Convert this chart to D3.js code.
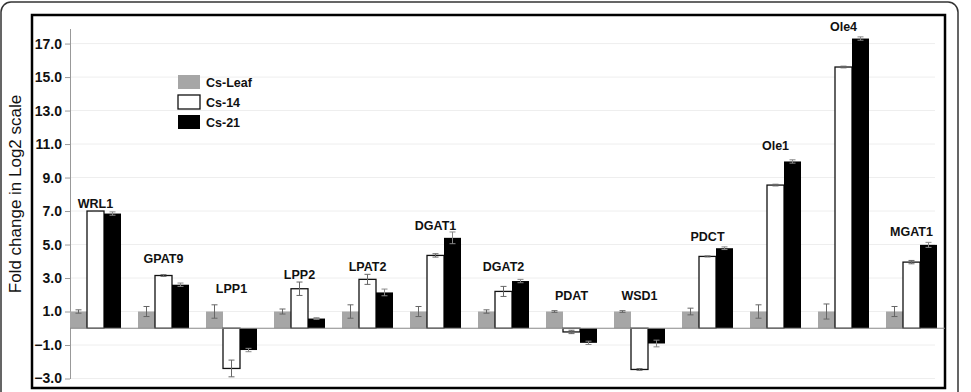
<!DOCTYPE html>
<html>
<head>
<meta charset="utf-8">
<script src="https://cdn.jsdelivr.net/npm/d3@7"></script>
<style>
  body { margin: 0; background: #fff; }
  svg { display: block; font-family: "Liberation Sans", Arial, sans-serif; }
</style>
</head>
<body>
<svg id="chart" width="971" height="392"></svg>
<script>
// genes and values (log2 fold change)
const genes = ["WRL1", "GPAT9", "LPP1", "LPP2", "LPAT2", "DGAT1", "DGAT2", "PDAT", "WSD1", "PDCT", "Ole1", "Ole4", "MGAT1"];
const series = ["Cs-Leaf", "Cs-14", "Cs-21"];

const leaf = [1.0, 1.0, 1.0, 1.0, 1.0, 1.0, 1.0, 1.0, 1.0, 1.0, 1.0, 1.0, 1.0];
const cs14 = [7.0, 3.15, -2.4, 2.36, 2.92, 4.35, 2.2, -0.22, -2.46, 4.29, 8.55, 15.6, 3.95];
const cs21 = [6.85, 2.6, -1.3, 0.58, 2.14, 5.4, 2.82, -0.87, -0.91, 4.78, 9.96, 17.3, 4.98];

const errLeaf = [0.1, 0.3, 0.4, 0.15, 0.4, 0.3, 0.1, 0.05, 0.05, 0.2, 0.4, 0.45, 0.3];
const err14 = [0.03, 0.05, 0.5, 0.4, 0.3, 0.1, 0.3, 0.1, 0.05, 0.03, 0.05, 0.05, 0.1];
const err21 = [0.1, 0.1, 0.1, 0.05, 0.2, 0.35, 0.1, 0.1, 0.2, 0.08, 0.1, 0.1, 0.15];

// height (in data units) where each gene name sits
const labelAt = [7.2, 3.87, 2.09, 2.92, 3.41, 5.87, 3.41, 1.71, 1.67, 5.24, 10.65, 17.78, 5.48];

const yTicks = [-3, -1, 1, 3, 5, 7, 9, 11, 13, 15, 17];

const colors = ["#a6a6a6", "#ffffff", "#000000"];

const svg = d3.select("#chart");

// frames
svg.append("rect")
  .attr("x", 1).attr("y", 2)
  .attr("width", 957).attr("height", 410)
  .attr("rx", 10).attr("ry", 10)
  .attr("fill", "none")
  .attr("stroke", "#333")
  .attr("stroke-width", 1.5);

svg.append("rect")
  .attr("x", 32).attr("y", 15)
  .attr("width", 913).attr("height", 373)
  .attr("fill", "none")
  .attr("stroke", "#000")
  .attr("stroke-width", 2.5);

// scales
const y = d3.scaleLinear().domain([-3, 17.9]).range([378.5, 28.5]);

const x0 = d3.scaleBand()
  .domain(genes)
  .range([70, 70 + genes.length * 68 - 17])
  .paddingInner(0.25)
  .paddingOuter(0);

const x1 = d3.scaleBand()
  .domain(series)
  .range([0, x0.bandwidth()]);

// grid
svg.append("g")
  .selectAll("line")
  .data(yTicks)
  .join("line")
  .attr("x1", 71).attr("x2", 935)
  .attr("y1", d => y(d)).attr("y2", d => y(d))
  .attr("stroke", "#eeeeee")
  .attr("stroke-width", 1);

// y axis
const yAxis = svg.append("g")
  .attr("transform", "translate(70,0)")
  .call(d3.axisLeft(y).tickValues(yTicks).tickFormat(d3.format(".1f")).tickSize(5).tickSizeOuter(0));

yAxis.select(".domain").attr("stroke", "#999");
yAxis.selectAll(".tick line").attr("stroke", "#999");
yAxis.selectAll(".tick text")
  .attr("font-size", 14)
  .attr("font-weight", "bold")
  .attr("fill", "#111")
  .attr("x", -8);

svg.append("text")
  .attr("transform", "translate(21,194) rotate(-90)")
  .attr("text-anchor", "middle")
  .attr("font-size", 17)
  .attr("fill", "#111")
  .text("Fold change in Log2 scale");

// bars
const rows = genes.map((g, i) => ({
  gene: g,
  label: labelAt[i],
  bars: [
    { s: series[0], v: leaf[i], e: errLeaf[i], c: colors[0] },
    { s: series[1], v: cs14[i], e: err14[i], c: colors[1] },
    { s: series[2], v: cs21[i], e: err21[i], c: colors[2] }
  ]
}));

const groups = svg.append("g")
  .selectAll("g")
  .data(rows)
  .join("g")
  .attr("transform", d => `translate(${x0(d.gene)},0)`);

groups.selectAll("rect")
  .data(d => d.bars)
  .join("rect")
  .attr("x", d => x1(d.s))
  .attr("y", d => y(Math.max(0, d.v)))
  .attr("width", x1.bandwidth())
  .attr("height", d => Math.abs(y(d.v) - y(0)))
  .attr("fill", d => d.c)
  .attr("stroke", d => d.s === "Cs-14" ? "#111" : "none")
  .attr("stroke-width", 1.3);

// error bars
const err = groups.selectAll("g.err")
  .data(d => d.bars)
  .join("g")
  .attr("class", "err")
  .attr("stroke", d => d.s === "Cs-21" ? "#888" : "#666")
  .attr("stroke-width", 1);

err.append("line")
  .attr("x1", d => x1(d.s) + x1.bandwidth() / 2)
  .attr("x2", d => x1(d.s) + x1.bandwidth() / 2)
  .attr("y1", d => y(d.v - d.e))
  .attr("y2", d => y(d.v + d.e));

err.selectAll("line.cap")
  .data(d => [d.v - d.e, d.v + d.e].map(v => ({ s: d.s, v })))
  .join("line")
  .attr("class", "cap")
  .attr("x1", d => x1(d.s) + x1.bandwidth() / 2 - 3)
  .attr("x2", d => x1(d.s) + x1.bandwidth() / 2 + 3)
  .attr("y1", d => y(d.v))
  .attr("y2", d => y(d.v));

// zero line
svg.append("line")
  .attr("x1", 70).attr("x2", 945)
  .attr("y1", y(0)).attr("y2", y(0))
  .attr("stroke", "#888")
  .attr("stroke-width", 1.2);

// gene names
groups.append("text")
  .attr("x", x0.bandwidth() / 2)
  .attr("y", d => y(d.label))
  .attr("text-anchor", "middle")
  .attr("font-size", 12.5)
  .attr("font-weight", "bold")
  .attr("fill", "#111")
  .text(d => d.gene);

// legend
const legend = svg.append("g")
  .selectAll("g")
  .data(series)
  .join("g")
  .attr("transform", (d, i) => `translate(178,${75 + i * 20})`);

legend.append("rect")
  .attr("width", 22).attr("height", 14)
  .attr("fill", (d, i) => colors[i])
  .attr("stroke", (d, i) => i === 1 ? "#111" : "none")
  .attr("stroke-width", 1.3);

legend.append("text")
  .attr("x", 28).attr("y", 12)
  .attr("font-size", 12.5)
  .attr("font-weight", "bold")
  .attr("fill", "#111")
  .text(d => d);
</script>
</body>
</html>
